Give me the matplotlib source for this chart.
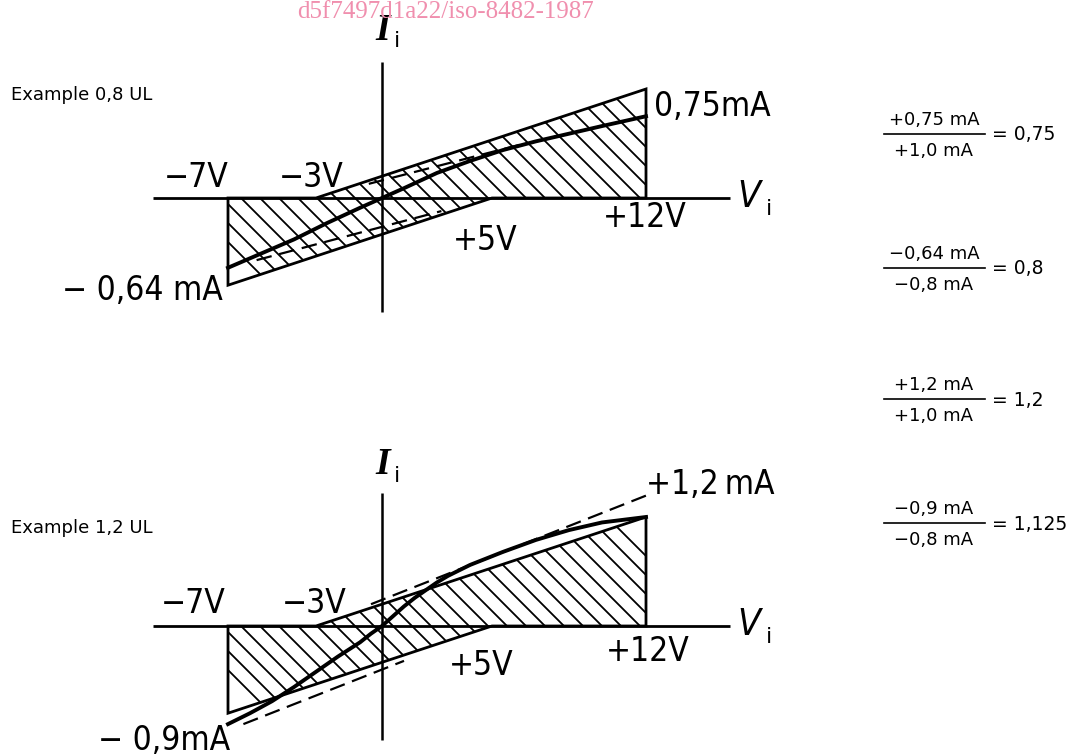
import matplotlib
matplotlib.use("Agg")
import matplotlib.pyplot as plt
import numpy as np

# Tolerance zone of one unit load (same for both examples)
zone_v = [-7, -3, 12, 12, 5, -7]
zone_i = [0, 0, 1.0, 0, 0, -0.8]

# Example 0,8 UL: measured characteristic
top_v = [-7, -5.5, -4, -2.5, -1, 0, 1, 2.5, 4, 5.5, 7, 8.5, 10, 12]
top_i = [-0.64, -0.51, -0.38, -0.23, -0.09, 0, 0.09, 0.23, 0.34, 0.44, 0.52, 0.59, 0.66, 0.75]
# scaled limits (dashed), visible parts only
top_dash_hi_v, top_dash_hi_i = [-0.6, 6.3], [0.13, 0.49]
top_dash_lo_v, top_dash_lo_i = [-5.7, 2.7], [-0.57, -0.12]

# Example 1,2 UL: measured characteristic
bot_v = [-7, -6, -5, -4, -3, -2, -1, -0.5, 0, 0.5, 1, 1.5, 2, 2.5, 3, 4, 5.5, 7, 8.5, 10, 12]
bot_i = [-0.9, -0.8, -0.69, -0.56, -0.42, -0.28, -0.15, -0.07, 0, 0.09, 0.18, 0.26, 0.33, 0.40, 0.46, 0.56, 0.68, 0.79, 0.88, 0.95, 1.0]
bot_dash_hi_v, bot_dash_hi_i = [-0.5, 12.3], [0.20, 1.22]
bot_dash_lo_v, bot_dash_lo_i = [-6.3, 1.0], [-0.90, -0.32]

# ratio annotations on the right
fractions = [
    ("+0,75 mA", "+1,0 mA", "= 0,75"),
    ("\u22120,64 mA", "\u22120,8 mA", "= 0,8"),
    ("+1,2 mA", "+1,0 mA", "= 1,2"),
    ("\u22120,9 mA", "\u22120,8 mA", "= 1,125"),
]

W, H = 1071, 755
PX_V, PX_MA = 22.0, 109.0   # pixels per volt / per mA
ORIGIN_X = 382
HATCH_PX = 19               # hatch spacing along the V axis, pixels
LBL = ["DejaVu Sans"]

fig = plt.figure(figsize=(W / 100, H / 100), dpi=100)
fig.patch.set_facecolor("white")


def make_axes(y_top, y_bot, origin_y):
    ax = fig.add_axes([0, 1 - y_bot / H, 1, (y_bot - y_top) / H])
    ax.set_xlim(-ORIGIN_X / PX_V, (W - ORIGIN_X) / PX_V)
    ax.set_ylim(-(y_bot - origin_y) / PX_MA, (origin_y - y_top) / PX_MA)
    ax.axis("off")
    ax.patch.set_visible(False)
    return ax


def draw_diagram(ax, cv, ci, dhv, dhi, dlv, dli, vaxis):
    ax.plot([-10.4, 15.8], [0, 0], color="black", lw=2.0, solid_capstyle="butt")
    ax.plot([0, 0], vaxis, color="black", lw=1.8, solid_capstyle="butt")
    zone = ax.fill(zone_v, zone_i, facecolor="none", edgecolor="black",
                   lw=2.0, joinstyle="miter", zorder=3)[0]
    # 45 degree hatching, clipped to the zone
    t = np.array([-150.0, 150.0])
    for x0 in np.arange(-9.0, 16.0, HATCH_PX / PX_V):
        ln, = ax.plot(x0 + t / PX_V, -t / PX_MA, color="black", lw=1.3, zorder=2)
        ln.set_clip_path(zone)
    ax.plot(dhv, dhi, color="black", lw=1.6, linestyle=(0, (7, 3.5)), zorder=4)
    ax.plot(dlv, dli, color="black", lw=1.6, linestyle=(0, (7, 3.5)), zorder=4)
    ax.plot(cv, ci, color="black", lw=2.8, solid_joinstyle="round", zorder=5)


def axis_names(ax, iy):
    ax.text(0.05, iy, "I", family="Liberation Serif", style="italic", weight="bold",
            fontsize=27, ha="center", va="center", clip_on=False)
    ax.text(0.7, iy - 0.1, "i", family=LBL, fontsize=16, ha="center", va="center")
    ax.text(16.7, 0.01, "V", family=LBL, style="italic", fontsize=27,
            fontstretch="condensed", ha="center", va="center")
    ax.text(17.6, -0.1, "i", family=LBL, fontsize=16, ha="center", va="center")


lab = dict(family=LBL, fontsize=24, fontstretch="condensed", ha="center", va="center")

# ---- top: 0,8 UL ----
ax1 = make_axes(0, 377, 198)
draw_diagram(ax1, top_v, top_i, top_dash_hi_v, top_dash_hi_i,
             top_dash_lo_v, top_dash_lo_i, [1.25, -1.05])
axis_names(ax1, 1.54)
ax1.text(-8.45, 0.19, "\u22127V", **lab)
ax1.text(-3.2, 0.19, "\u22123V", **lab)
ax1.text(4.7, -0.39, "+5V", **lab)
ax1.text(11.95, -0.18, "+12V", **lab)
ax1.text(15.0, 0.84, "0,75mA", **lab)
ax1.text(-10.9, -0.85, "\u2212 0,64 mA", **lab)

# ---- bottom: 1,2 UL ----
ax2 = make_axes(377, 755, 626)
draw_diagram(ax2, bot_v, bot_i, bot_dash_hi_v, bot_dash_hi_i,
             bot_dash_lo_v, bot_dash_lo_i, [1.22, -1.05])
axis_names(ax2, 1.48)
ax2.text(-8.6, 0.21, "\u22127V", **lab)
ax2.text(-3.1, 0.21, "\u22123V", **lab)
ax2.text(4.5, -0.36, "+5V", **lab)
ax2.text(12.1, -0.23, "+12V", **lab)
ax2.text(14.9, 1.30, "+1,2\u2009mA", **lab)
ax2.text(-9.9, -1.05, "\u2212 0,9mA", **lab)


def ftext(x, y, s, **kw):
    fig.text(x / W, 1 - y / H, s, **kw)


ftext(11, 95, "Example 0,8 UL", fontsize=13, va="center", ha="left")
ftext(11, 528, "Example 1,2 UL", fontsize=13, va="center", ha="left")

bar_y = [134, 268, 399, 523]
for (num, den, res), y in zip(fractions, bar_y):
    ftext(934, y - 14, num, fontsize=13, ha="center", va="center")
    ftext(934, y + 17, den, fontsize=13, ha="center", va="center")
    fig.add_artist(plt.Line2D([884 / W, 985 / W], [1 - y / H, 1 - y / H],
                              color="black", lw=1.2))
    ftext(992, y + 1, res, fontsize=13.5, ha="left", va="center")

ftext(445, 12, "d5f7497d1a22/iso-8482-1987", family="Liberation Serif",
      fontsize=18, color="#f08fae", ha="center", va="center")

fig.savefig("out.png", dpi=100, facecolor="white")
